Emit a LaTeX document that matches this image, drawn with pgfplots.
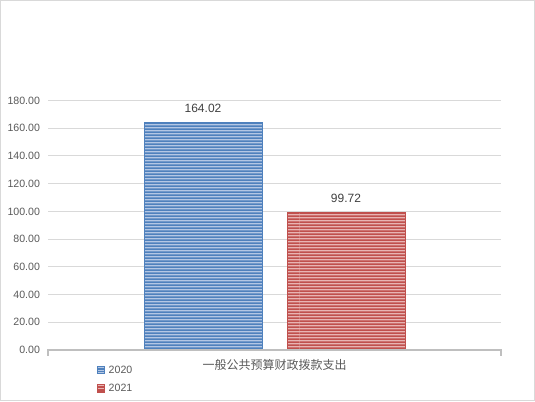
\documentclass[border=0pt]{standalone}
\usepackage{pgfplots}
\pgfplotsset{compat=1.18}
\usepackage{fontspec}
\setmainfont{Liberation Sans}
\newfontfamily\cjk{Noto Sans CJK SC}
\usetikzlibrary{patterns}

\definecolor{blueser}{HTML}{4F81BD}
\definecolor{bluelight}{HTML}{B4C7E4}
\definecolor{redser}{HTML}{C0504D}
\definecolor{redlight}{HTML}{E8B4B3}
\definecolor{gridgray}{HTML}{D9D9D9}
\definecolor{axgray}{HTML}{BFBFBF}
\definecolor{txtgray}{HTML}{595959}
\definecolor{lblgray}{HTML}{404040}

% wide tile so that no seams show inside a bar
\pgfdeclarepatternformonly{hstripes}{\pgfpoint{0bp}{0bp}}{\pgfpoint{300bp}{2.6bp}}{\pgfpoint{300bp}{2.6bp}}{
  \pgfpathrectangle{\pgfpoint{0bp}{0bp}}{\pgfpoint{300bp}{1.9bp}}
  \pgfusepath{fill}
}

\pgfplotsset{
  stripe/.style={fill=#1light, draw=#1ser, line width=0.5bp,
    postaction={pattern=hstripes, pattern color=#1ser}},
}

\begin{document}
\begin{tikzpicture}[x=1bp,y=1bp]
\useasboundingbox (0,0) rectangle (535,401);
\draw[gridgray, line width=1bp] (0.5,0.5) rectangle (534.5,400.5);
\begin{axis}[
  at={(48bp,51bp)}, anchor=south west,
  scale only axis, width=453bp, height=249.5bp,
  ybar, bar width=118bp,
  xmin=-1, xmax=1, ymin=0, ymax=180,
  ytick={0,20,...,180},
  xtick={0},
  xticklabels={{\cjk 一般公共预算财政拨款支出}},
  xticklabel style={font=\fontsize{12bp}{14bp}\selectfont, text=txtgray, anchor=center, yshift=-11bp},
  yticklabel style={font=\fontsize{10.6bp}{12bp}\selectfont, text=txtgray, xshift=-4.5bp},
  /pgf/number format/.cd, fixed, fixed zerofill, precision=2, assume math mode=true, /pgfplots/.cd,
  axis line style={draw=none},
  tick style={draw=none},
  ymajorgrids, grid style={gridgray, line width=1bp},
  nodes near coords,
  every node near coord/.append style={font=\fontsize{12bp}{14bp}\selectfont, text=lblgray, anchor=south, yshift=6bp},
  clip=false,
  legend style={draw=none, fill=none, inner sep=0pt, row sep=9.5bp, column sep=4bp,
    at={(axis description cs:0.108,-0.062)}, anchor=north west,
    font=\fontsize{10.6bp}{12bp}\selectfont, text=txtgray,
    nodes={inner sep=0pt, outer sep=0pt}},
  legend cell align=left,
  legend image code/.code={\draw[#1, line width=0pt, draw=none] (0bp,-3.8bp) rectangle (7.6bp,3.8bp);},
]
\addplot[stripe=blue, bar shift=-71.5bp] coordinates {(0,164.02)};
\addlegendentry{2020}
\addplot[stripe=red, bar shift=71.5bp] coordinates {(0,99.72)};
\addlegendentry{2021}
\draw[axgray, line width=2bp] ([yshift=-5.5bp]axis cs:-1,0) -- (axis cs:-1,0) -- (axis cs:1,0) -- ([yshift=-5.5bp]axis cs:1,0);
\end{axis}
\end{tikzpicture}
\end{document}
